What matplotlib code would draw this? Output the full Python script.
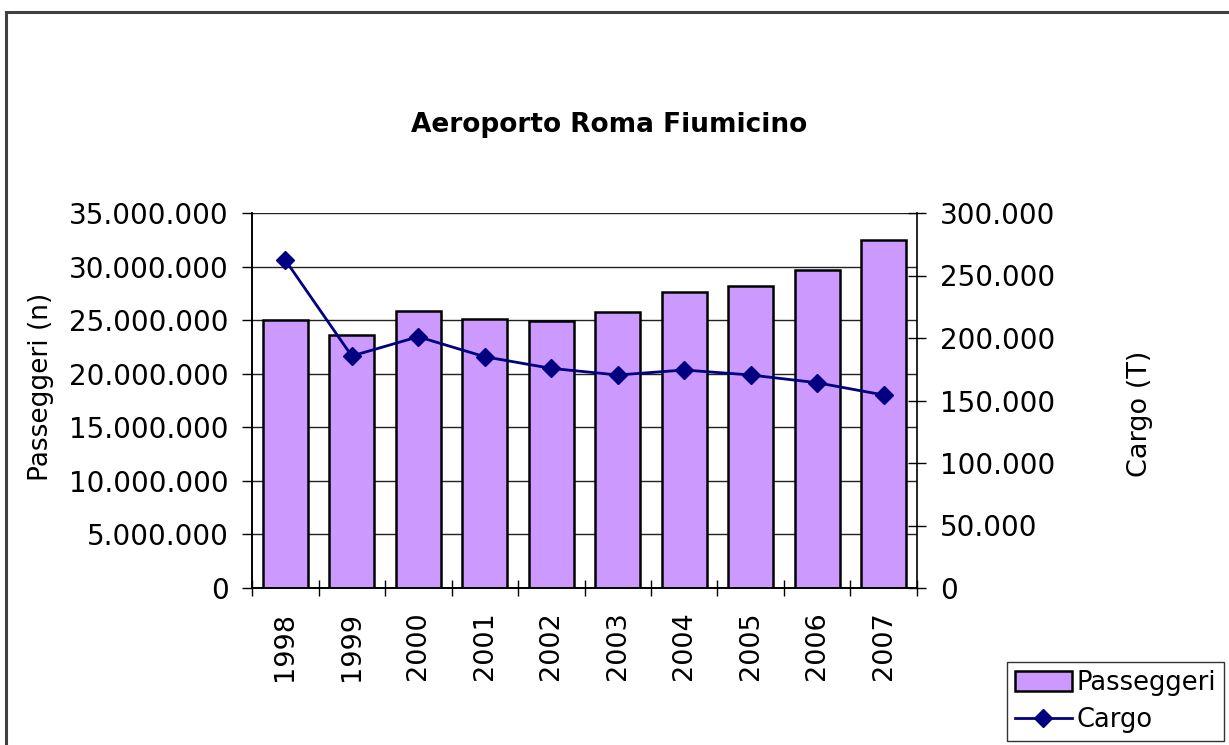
import numpy as np
import matplotlib
matplotlib.use("Agg")
from matplotlib import pyplot as plt
from matplotlib.ticker import FuncFormatter, MultipleLocator
from matplotlib.patches import Rectangle
from matplotlib.lines import Line2D

years = ['1998', '1999', '2000', '2001', '2002', '2003', '2004', '2005', '2006', '2007']
passeggeri = [25000000, 23600000, 25880000, 25140000, 24950000,
              25760000, 27630000, 28190000, 29680000, 32480000]
cargo = [262400, 185600, 201000, 185000, 175700,
         170400, 174400, 170400, 164200, 154400]

plt.rcParams['font.family'] = 'DejaVu Sans'


def dots(v, pos):
    return '{:,.0f}'.format(v).replace(',', '.')


fig = plt.figure(figsize=(12.29, 7.45), dpi=100)
# outer chart border (right and bottom edges fall outside the picture)
fig.patches.append(Rectangle((6 / 1229, -0.05), 1.1, 1 - 12 / 745 + 0.05,
                             transform=fig.transFigure, fill=False,
                             edgecolor='#404040', linewidth=2.2))

ax = fig.add_axes([252 / 1229, 157 / 745, 665 / 1229, 375 / 745])
x = np.arange(len(years))
ax.bar(x, passeggeri, width=0.68, color='#CC99FF', edgecolor='black',
       linewidth=1.8, zorder=2)
ax.set_xlim(-0.5, len(years) - 0.5)
ax.set_ylim(0, 35000000)
ax.yaxis.set_major_locator(MultipleLocator(5000000))
ax.yaxis.set_major_formatter(FuncFormatter(dots))
ax.yaxis.grid(True, color='#222222', linewidth=1, zorder=0)
ax.set_axisbelow(True)

ax.set_xticks(np.arange(-0.5, len(years)), minor=False)
ax.set_xticklabels([])
ax.set_xticks(x, minor=True)
ax.set_xticklabels(years, minor=True, rotation=90, fontsize=19.5)
ax.tick_params(axis='x', which='major', direction='inout', length=12, width=1)
ax.tick_params(axis='x', which='minor', length=0, pad=17)
ax.tick_params(axis='y', direction='out', length=7, width=1, labelsize=20, pad=10)

ax2 = ax.twinx()
ax2.plot(x, cargo, color='#000080', linewidth=2, marker='D', markersize=9.5,
         zorder=3)
ax2.set_ylim(0, 300000)
ax2.yaxis.set_major_locator(MultipleLocator(50000))
ax2.yaxis.set_major_formatter(FuncFormatter(dots))
ax2.tick_params(axis='y', direction='inout', length=13, width=1, labelsize=20,
                pad=10)

for a in (ax, ax2):
    a.spines['top'].set_visible(False)
    for s in ('left', 'right', 'bottom'):
        a.spines[s].set_color('black')
        a.spines[s].set_linewidth(1.2)
ax.spines['right'].set_visible(False)

# axis titles and chart title
fig.text(41 / 1229, 1 - 387 / 745, 'Passeggeri (n)', rotation=90,
         ha='center', va='center', fontsize=19)
fig.text(1140 / 1229, 1 - 414 / 745, 'Cargo (T)', rotation=90,
         ha='center', va='center', fontsize=19.5)
fig.text(609 / 1229, 1 - 125 / 745, 'Aeroporto Roma Fiumicino', ha='center',
         va='center', fontsize=19, fontweight='bold')

handles = [Rectangle((0, 0), 1, 1, facecolor='#CC99FF', edgecolor='black',
                     linewidth=1.8),
           Line2D([], [], color='#000080', linewidth=2, marker='D',
                  markersize=9)]
leg = fig.legend(handles, ['Passeggeri', 'Cargo'], loc='lower right',
                 bbox_to_anchor=(1224 / 1229, 4 / 745), fontsize=18.5,
                 frameon=True, fancybox=False, borderpad=0.3,
                 handlelength=2.2, handleheight=0.8, handletextpad=0.2,
                 labelspacing=0.45, borderaxespad=0)
leg.get_frame().set_edgecolor('black')
leg.get_frame().set_linewidth(1)

fig.savefig('out.png', dpi=100)
